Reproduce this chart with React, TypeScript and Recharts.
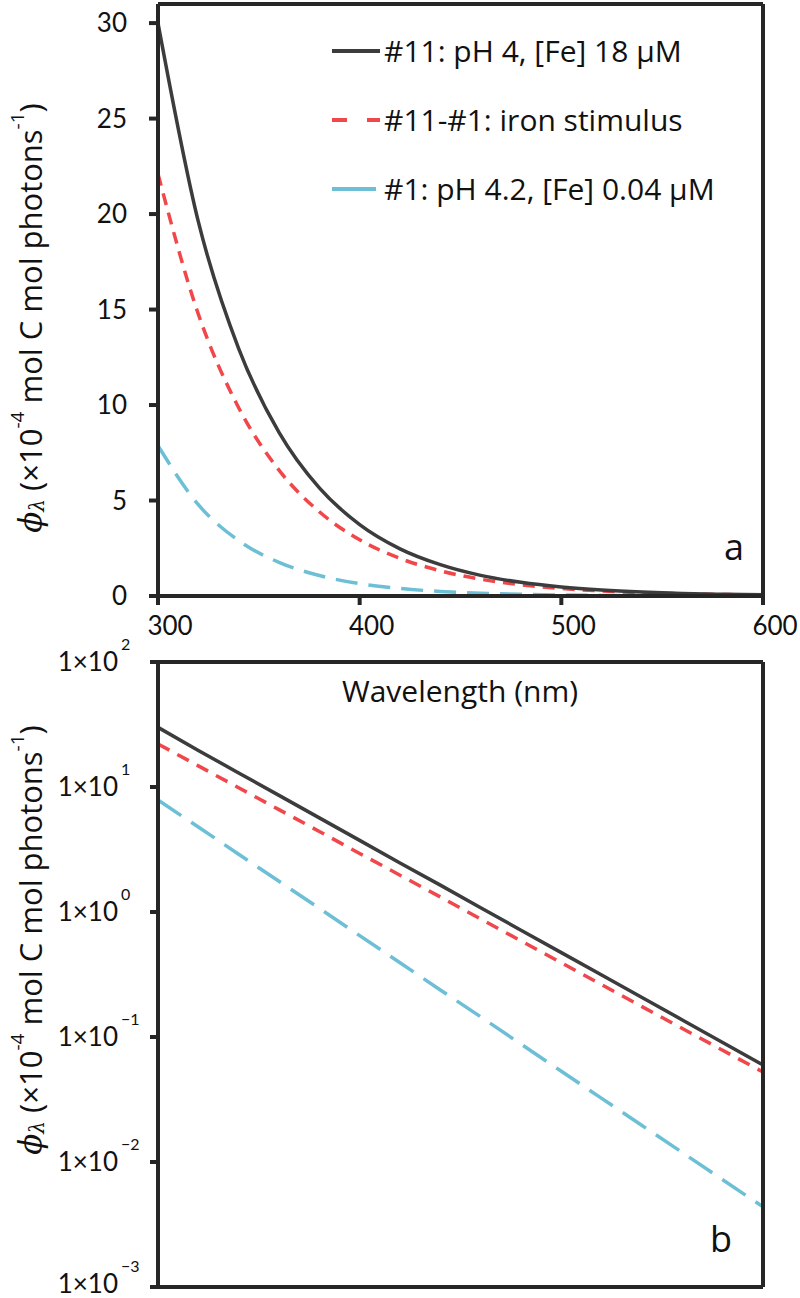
import React from "react";
import { LineChart, Line, XAxis, YAxis, Legend, Label } from "recharts";

// wavelength (nm) and quantum yields (x10^-4 mol C mol photons^-1)
const wavelengths = [300, 320, 340, 360, 380, 400, 420, 440, 460, 480, 500, 520, 540, 560, 580, 600];
const fe18 = [30.0, 19.6, 12.96, 8.57, 5.66, 3.74, 2.47, 1.64, 1.08, 0.715, 0.473, 0.313, 0.207, 0.137, 0.0903, 0.0597];
const ironStimulus = [22.1, 14.76, 9.86, 6.59, 4.41, 2.94, 1.97, 1.32, 0.879, 0.587, 0.393, 0.262, 0.175, 0.117, 0.0783, 0.0524];
const fe004 = [7.87, 4.78, 2.9, 1.76, 1.07, 0.647, 0.393, 0.238, 0.145, 0.0877, 0.0532, 0.0323, 0.0196, 0.0119, 0.00721, 0.00438];

const seriesNames = ["#11: pH 4, [Fe] 18 μM", "#11-#1: iron stimulus", "#1: pH 4.2, [Fe] 0.04 μM"];
const waveTicks = [300, 400, 500, 600];
const linearTicks = [0, 5, 10, 15, 20, 25, 30];
const logTicks = [0.001, 0.01, 0.1, 1, 10, 100];

const data = wavelengths.map((w, i) => ({
    w,
    fe18: fe18[i],
    stim: ironStimulus[i],
    fe004: fe004[i],
}));

const AXIS = "#262626";
const BLACK = "#3c3c3c";
const RED = "#f0474b";
const BLUE = "#6dbfd6";
const TICK_FONT = "Lato, 'Open Sans', sans-serif";
const TEXT_FONT = "'Open Sans', sans-serif";

const axisLine = { stroke: AXIS, strokeWidth: 4 };

const AxisTitle = ({ cx, cy }: { cx: number; cy: number }) => (
    <text
        transform={`rotate(-90 ${cx} ${cy})`}
        x={cx}
        y={cy}
        textAnchor="middle"
        dominantBaseline="central"
        fontFamily={TEXT_FONT}
        fontSize={31}
        fill="#111"
    >
        <tspan fontFamily="'DejaVu Serif', serif" fontStyle="italic">ϕ</tspan>
        <tspan fontFamily="'DejaVu Serif', serif" fontStyle="italic" fontSize={20} dy={7}>λ</tspan>
        <tspan dy={-7}> (×10</tspan>
        <tspan fontSize={19} dy={-13}>-4</tspan>
        <tspan dy={13}> mol C mol photons</tspan>
        <tspan fontSize={19} dy={-13}>-1</tspan>
        <tspan dy={13}>)</tspan>
    </text>
);

const WaveTick = (props: any) => {
    const { x, y, payload } = props;
    return (
        <text x={x + 12} y={y} dy="0.71em" textAnchor="middle" fontFamily={TICK_FONT} fontSize={26} fill="#111">
            {payload.value}
        </text>
    );
};

const LinTick = (props: any) => {
    const { x, y, payload } = props;
    return (
        <text x={x} y={y} dy="0.36em" textAnchor="end" fontFamily={TICK_FONT} fontSize={26} fill="#111">
            {payload.value}
        </text>
    );
};

const LogTick = (props: any) => {
    const { x, y, payload } = props;
    const exp = Math.round(Math.log10(payload.value));
    const sup = exp < 0 ? `\u2212${-exp}` : `${exp}`;
    // the lowest label sits on the bottom edge; lift it a little so it stays whole
    const lift = exp === -3 ? 3 : 0;
    return (
        <g>
            <text x={x - 32} y={y - lift} dy="0.36em" textAnchor="end" fontFamily={TICK_FONT} fontSize={26} fill="#111">
                1×10
            </text>
            <text x={x - 29} y={y - 12 - lift} textAnchor="start" fontFamily={TICK_FONT} fontSize={16} fill="#111">
                {sup}
            </text>
        </g>
    );
};

const LegendBox = () => {
    const rows = [
        { name: seriesNames[0], color: BLACK, dash: undefined },
        { name: seriesNames[1], color: RED, dash: "15 20" },
        { name: seriesNames[2], color: BLUE, dash: "44 10" },
    ];
    return (
        <div style={{ fontFamily: TEXT_FONT, fontSize: 30, color: "#111" }}>
            {rows.map((r) => (
                <div key={r.name} style={{ display: "flex", alignItems: "center", height: 69 }}>
                    <svg width={52} height={10} style={{ marginRight: 2 }}>
                        <line x1={2} y1={5} x2={50} y2={5} stroke={r.color} strokeWidth={4} strokeDasharray={r.dash} />
                    </svg>
                    <span>{r.name}</span>
                </div>
            ))}
        </div>
    );
};

const PanelLetter = ({ x, y, text }: { x: number; y: number; text: string }) => (
    <text x={x} y={y} fontFamily={TEXT_FONT} fontSize={36} fill="#111">
        {text}
    </text>
);

export default function App() {
    return (
        <div style={{ position: "absolute", left: 0, top: 0, width: 800, height: 1298, background: "#fff" }}>
            <div style={{ position: "absolute", left: 0, top: 0 }}>
                <LineChart width={800} height={650} data={data} margin={{ top: 3, right: 35, left: 78, bottom: 14 }}>
                    <XAxis
                        dataKey="w"
                        type="number"
                        domain={[300, 600]}
                        ticks={waveTicks}
                        axisLine={axisLine}
                        tickLine={{ stroke: AXIS, strokeWidth: 4 }}
                        tickSize={9}
                        tickMargin={12}
                        tick={<WaveTick />}
                        height={40}
                    />
                    <XAxis xAxisId="top" orientation="top" type="number" domain={[300, 600]} tick={false} tickLine={false} axisLine={axisLine} height={1} />
                    <YAxis
                        type="number"
                        domain={[0, 31]}
                        ticks={linearTicks}
                        allowDataOverflow
                        axisLine={axisLine}
                        tickLine={{ stroke: AXIS, strokeWidth: 4 }}
                        tickSize={9}
                        tickMargin={22}
                        tick={<LinTick />}
                        width={80}
                    >
                        <Label content={() => <AxisTitle cx={30} cy={318} />} />
                    </YAxis>
                    <YAxis yAxisId="right" orientation="right" domain={[0, 31]} tick={false} tickLine={false} axisLine={axisLine} width={2}>
                        <Label content={() => <PanelLetter x={724} y={560} text="a" />} />
                    </YAxis>
                    <Legend
                        layout="horizontal"
                        verticalAlign="middle"
                        align="center"
                        wrapperStyle={{ top: 16, left: 330, width: 460, height: 210 }}
                        content={() => <LegendBox />}
                    />
                    <Line type="monotone" dataKey="fe004" name={seriesNames[2]} stroke={BLUE} strokeWidth={3.5} strokeDasharray="22 11" dot={false} isAnimationActive={false} />
                    <Line type="monotone" dataKey="stim" name={seriesNames[1]} stroke={RED} strokeWidth={3.5} strokeDasharray="12 8" dot={false} isAnimationActive={false} />
                    <Line type="monotone" dataKey="fe18" name={seriesNames[0]} stroke={BLACK} strokeWidth={3.5} dot={false} isAnimationActive={false} />
                </LineChart>
            </div>
            <div style={{ position: "absolute", left: 0, top: 630 }}>
                <LineChart width={800} height={668} data={data} margin={{ top: 12, right: 35, left: 78, bottom: 10 }}>
                    <XAxis dataKey="w" type="number" domain={[300, 600]} tick={false} tickLine={false} axisLine={axisLine} height={1} />
                    <XAxis
                        xAxisId="top"
                        orientation="top"
                        type="number"
                        domain={[300, 600]}
                        ticks={waveTicks}
                        axisLine={axisLine}
                        tickLine={{ stroke: AXIS, strokeWidth: 4 }}
                        tickSize={10}
                        tick={() => <g />}
                        height={20}
                    >
                        <Label
                            content={() => (
                                <text x={460} y={60} textAnchor="middle" dominantBaseline="central" fontFamily={TEXT_FONT} fontSize={30} fill="#111">
                                    Wavelength (nm)
                                </text>
                            )}
                        />
                    </XAxis>
                    <YAxis
                        type="number"
                        scale="log"
                        domain={[0.001, 100]}
                        ticks={logTicks}
                        allowDataOverflow
                        axisLine={axisLine}
                        tickLine={{ stroke: AXIS, strokeWidth: 4 }}
                        tickSize={8}
                        tickMargin={0}
                        tick={<LogTick />}
                        width={80}
                    >
                        <Label content={() => <AxisTitle cx={30} cy={310} />} />
                    </YAxis>
                    <YAxis yAxisId="right" orientation="right" scale="log" domain={[0.001, 100]} tick={false} tickLine={false} axisLine={axisLine} width={2}>
                        <Label content={() => <PanelLetter x={710} y={622} text="b" />} />
                    </YAxis>
                    <Line type="linear" dataKey="fe004" name={seriesNames[2]} stroke={BLUE} strokeWidth={3.5} strokeDasharray="28 12" dot={false} isAnimationActive={false} />
                    <Line type="linear" dataKey="stim" name={seriesNames[1]} stroke={RED} strokeWidth={3.5} strokeDasharray="13 9" dot={false} isAnimationActive={false} />
                    <Line type="linear" dataKey="fe18" name={seriesNames[0]} stroke={BLACK} strokeWidth={3.5} dot={false} isAnimationActive={false} />
                </LineChart>
            </div>
        </div>
    );
}
